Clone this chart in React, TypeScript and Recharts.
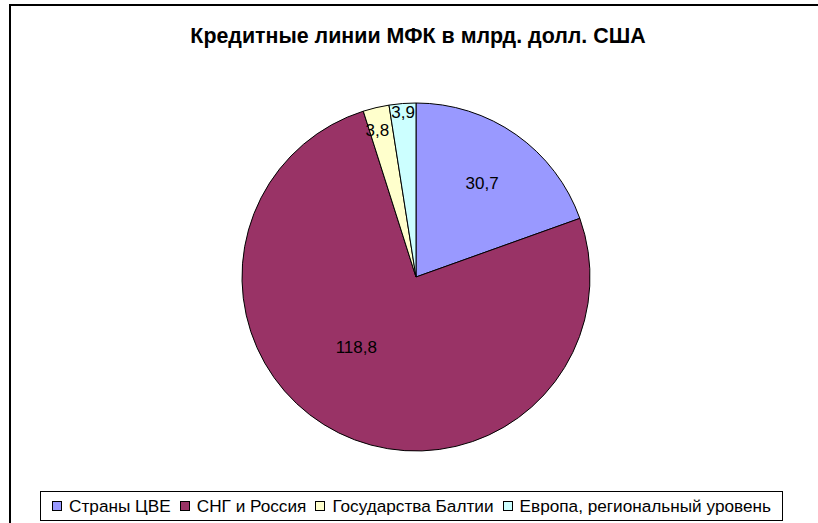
import { PieChart, Pie, Cell } from "recharts";

const regions = ["Страны ЦВЕ", "СНГ и Россия", "Государства Балтии", "Европа, региональный уровень"];
const credit = [30.7, 118.8, 3.8, 3.9];
const colors = ["#9999FF", "#993366", "#FFFFCC", "#CCFFFF"];

const data = regions.map((name, i) => ({ name, value: credit[i] }));

const RAD = Math.PI / 180;
// how far out each label sits (fraction of radius) and a small angle nudge, Excel-ish
const labelPos = [
  { r: 0.66, da: 0 },
  { r: 0.53, da: -14 },
  { r: 0.87, da: 1.5 },
  { r: 0.95, da: 0 },
];

function renderLabel(props: any) {
  const { cx, cy, midAngle, outerRadius, index, value } = props;
  const p = labelPos[index];
  const a = (midAngle + p.da) * RAD;
  const x = cx + outerRadius * p.r * Math.cos(a);
  const y = cy - outerRadius * p.r * Math.sin(a);
  return (
    <text
      x={x}
      y={y}
      textAnchor="middle"
      dominantBaseline="central"
      fontSize={17}
      fontFamily="Liberation Sans, Arial, sans-serif"
      fill="#000"
    >
      {String(value).replace(".", ",")}
    </text>
  );
}

export default function App() {
  return (
    <div
      style={{
        position: "fixed",
        left: 0,
        top: 0,
        width: 818,
        height: 523,
        background: "#fff",
        overflow: "hidden",
        fontFamily: "Liberation Sans, Arial, sans-serif",
      }}
    >
      <div
        style={{
          position: "absolute",
          left: 9,
          top: 4,
          width: 830,
          height: 540,
          border: "2px solid #000",
        }}
      />
      <div
        style={{
          position: "absolute",
          left: 0,
          top: 24,
          width: 836,
          textAlign: "center",
          fontWeight: "bold",
          fontSize: 21.4,
        }}
      >
        Кредитные линии МФК в млрд. долл. США
      </div>
      <div style={{ position: "absolute", left: 0, top: 0 }}>
        <PieChart width={818} height={523}>
          <Pie
            data={data}
            dataKey="value"
            nameKey="name"
            cx={411}
            cy={272}
            outerRadius={174}
            startAngle={90}
            endAngle={-270}
            stroke="#000"
            strokeWidth={1}
            label={renderLabel}
            labelLine={false}
            isAnimationActive={false}
          >
            {data.map((d, i) => (
              <Cell key={d.name} fill={colors[i]} />
            ))}
          </Pie>
        </PieChart>
      </div>
      <div
        style={{
          position: "absolute",
          left: 40,
          top: 491,
          width: 741,
          height: 28,
          border: "1px solid #000",
          display: "flex",
          alignItems: "center",
          justifyContent: "center",
          gap: 9,
          fontSize: 17.2,
          whiteSpace: "nowrap",
        }}
      >
        {data.map((d, i) => (
          <div key={d.name} style={{ display: "flex", alignItems: "center", flexShrink: 0 }}>
            <span
              style={{
                display: "inline-block",
                width: 8,
                height: 8,
                border: "1px solid #000",
                background: colors[i],
                marginRight: 7,
              }}
            />
            {d.name}
          </div>
        ))}
      </div>
    </div>
  );
}
